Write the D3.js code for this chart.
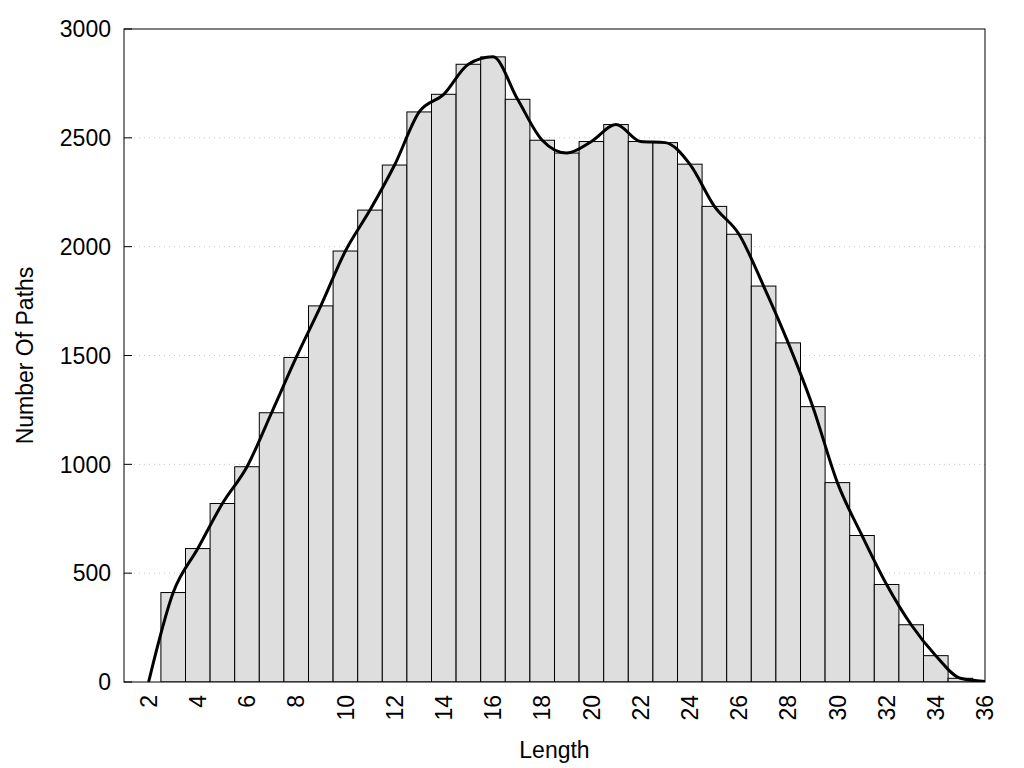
<!DOCTYPE html>
<html>
<head>
<meta charset="utf-8">
<script src="https://cdn.jsdelivr.net/npm/d3@7"></script>
<style>
  html, body { margin: 0; padding: 0; background: #fff; }
  svg { display: block; }
  text { font-family: "Liberation Sans", Arial, sans-serif; fill: #000; }
</style>
</head>
<body>
<svg id="chart" width="1024" height="768"></svg>
<script>
// Data
const lengths = [2, 3, 4, 5, 6, 7, 8, 9, 10, 11, 12, 13, 14, 15, 16, 17, 18, 19,
                 20, 21, 22, 23, 24, 25, 26, 27, 28, 29, 30, 31, 32, 33, 34, 35, 36];
const counts  = [0, 411, 613, 820, 989, 1237, 1491, 1728, 1980, 2168, 2375, 2619, 2700, 2838, 2872, 2677, 2489, 2430,
                 2483, 2561, 2483, 2478, 2379, 2185, 2057, 1819, 1558, 1265, 916, 673, 448, 263, 121, 17, 2];
const xTicks = [2, 4, 6, 8, 10, 12, 14, 16, 18, 20, 22, 24, 26, 28, 30, 32, 34, 36];
const yTicks = [0, 500, 1000, 1500, 2000, 2500, 3000];
const xTitle = "Length";
const yTitle = "Number Of Paths";

const svg = d3.select("#chart");
const pLeft = 124, pRight = 985, pTop = 29, pBottom = 682;
const fs = 23;

const x = d3.scaleLinear().domain([1, 36]).range([pLeft, pRight]);
const y = d3.scaleLinear().domain([0, 3000]).range([pBottom, pTop]);

const data = lengths.map((l, i) => ({ l, c: counts[i] }));

// clip
svg.append("defs").append("clipPath").attr("id", "plotclip")
  .append("rect").attr("x", pLeft).attr("y", pTop).attr("width", pRight - pLeft).attr("height", pBottom - pTop);

// gridlines
svg.append("g").selectAll("line")
  .data(yTicks.filter(t => t > 0 && t < 3000))
  .join("line")
  .attr("x1", pLeft).attr("x2", pRight)
  .attr("y1", d => y(d)).attr("y2", d => y(d))
  .attr("stroke", "#c8c8c8").attr("stroke-width", 1)
  .attr("stroke-dasharray", "1,4");

// bars
svg.append("g").attr("clip-path", "url(#plotclip)")
  .selectAll("rect")
  .data(data.filter(d => d.c > 0 && d.l < 36))
  .join("rect")
  .attr("x", d => x(d.l - 0.5))
  .attr("width", d => x(d.l + 0.5) - x(d.l - 0.5))
  .attr("y", d => y(d.c))
  .attr("height", d => y(0) - y(d.c))
  .attr("fill", "#dedede")
  .attr("stroke", "#000")
  .attr("stroke-width", 1);

// smooth curve
const line = d3.line().x(d => x(d.l)).y(d => y(d.c)).curve(d3.curveMonotoneX);
svg.append("path")
  .datum(data)
  .attr("clip-path", "url(#plotclip)")
  .attr("d", line)
  .attr("fill", "none")
  .attr("stroke", "#000")
  .attr("stroke-width", 3)
  .attr("stroke-linejoin", "round");

// frame
svg.append("rect")
  .attr("x", pLeft).attr("y", pTop)
  .attr("width", pRight - pLeft).attr("height", pBottom - pTop)
  .attr("fill", "none").attr("stroke", "#000").attr("stroke-width", 1);

// y ticks (inward) + labels
const yg = svg.append("g");
yg.selectAll("line").data(yTicks).join("line")
  .attr("x1", pLeft).attr("x2", pLeft + 8)
  .attr("y1", d => y(d)).attr("y2", d => y(d))
  .attr("stroke", "#000");
yg.selectAll("text").data(yTicks).join("text")
  .attr("x", 111).attr("y", d => y(d)).attr("dy", "0.36em")
  .attr("text-anchor", "end").attr("font-size", fs)
  .text(d => d);

// x tick labels (rotated)
const xg = svg.append("g");
xg.selectAll("text").data(xTicks).join("text")
  .attr("transform", d => `translate(${x(d)},695) rotate(-90)`)
  .attr("dy", "0.36em")
  .attr("text-anchor", "end").attr("font-size", fs)
  .text(d => d);

// axis titles
svg.append("text")
  .attr("x", (pLeft + pRight) / 2).attr("y", 758)
  .attr("text-anchor", "middle").attr("font-size", fs)
  .text(xTitle);
svg.append("text")
  .attr("transform", `translate(33,${(pTop + pBottom) / 2}) rotate(-90)`)
  .attr("text-anchor", "middle").attr("font-size", fs)
  .text(yTitle);
</script>
</body>
</html>
